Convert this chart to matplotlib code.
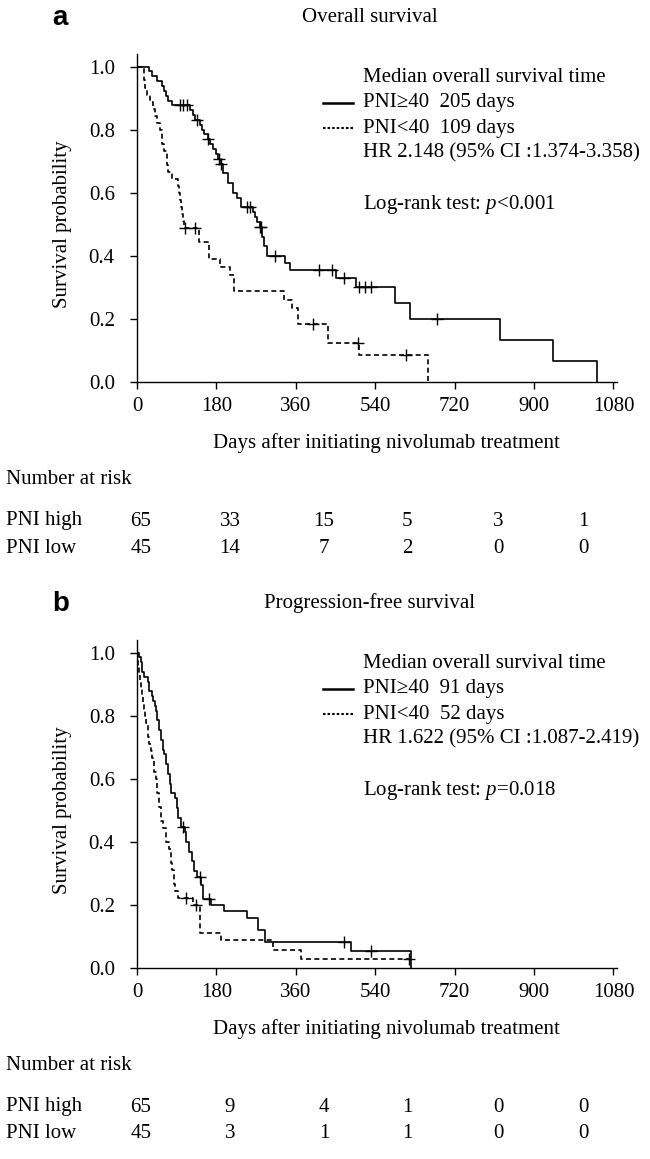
import numpy as np
import matplotlib.pyplot as plt
from matplotlib.lines import Line2D

plt.rcParams['font.family'] = ['Liberation Serif', 'DejaVu Serif']
plt.rcParams['mathtext.fontset'] = 'custom'
plt.rcParams['mathtext.rm'] = 'Liberation Serif'
plt.rcParams['mathtext.it'] = 'Liberation Serif:italic'

# ---- panel a: overall survival ----
os_high_t = [0, 27, 33, 45, 56, 62, 66, 71, 79, 120, 128, 132, 143, 148, 152, 160, 165, 173,
             178, 184, 188, 196, 206, 218, 226, 236, 262, 268, 272, 278, 283, 287, 294, 336,
             346, 452, 497, 584, 619, 823, 944, 1043]
os_high_s = [1.0, 0.985, 0.969, 0.954, 0.938, 0.923, 0.908, 0.892, 0.877, 0.862, 0.846, 0.831,
             0.815, 0.800, 0.785, 0.769, 0.754, 0.738, 0.723, 0.708, 0.692, 0.662, 0.631, 0.600,
             0.585, 0.554, 0.538, 0.523, 0.507, 0.492, 0.460, 0.430, 0.400, 0.378, 0.354, 0.330,
             0.300, 0.250, 0.200, 0.133, 0.067, 0.0]
os_high_cens = [97, 105, 114, 137, 162, 186, 190, 250, 257, 279, 282, 313, 412, 443, 470,
                504, 517, 531, 680]

os_low_t = [0, 16, 19, 22, 30, 37, 41, 45, 52, 57, 61, 67, 71, 80, 93, 96, 98, 100, 102, 104,
            106, 141, 164, 187, 210, 220, 334, 351, 366, 434, 503, 659]
os_low_s = [1.0, 0.956, 0.933, 0.911, 0.889, 0.867, 0.844, 0.822, 0.800, 0.756, 0.733, 0.689,
            0.667, 0.644, 0.622, 0.600, 0.578, 0.556, 0.533, 0.511, 0.489, 0.443, 0.391, 0.366,
            0.340, 0.290, 0.260, 0.235, 0.183, 0.123, 0.085, 0.0]
os_low_cens = [108, 132, 400, 500, 610]

os_risk_high = [65, 33, 15, 5, 3, 1]
os_risk_low = [45, 14, 7, 2, 0, 0]

# ---- panel b: progression-free survival ----
pfs_high_t = [0, 5, 8, 12, 15, 24, 28, 33, 37, 40, 43, 46, 50, 54, 58, 62, 66, 70, 75, 78, 86,
              90, 94, 100, 108, 112, 118, 124, 130, 137, 145, 149, 168, 197, 249, 275, 289, 486,
              621]
pfs_high_s = [1.0, 0.985, 0.969, 0.938, 0.923, 0.908, 0.877, 0.862, 0.846, 0.831, 0.815, 0.785,
              0.754, 0.723, 0.692, 0.677, 0.646, 0.615, 0.585, 0.554, 0.538, 0.508, 0.477, 0.446,
              0.431, 0.400, 0.369, 0.338, 0.308, 0.290, 0.262, 0.220, 0.200, 0.181, 0.160, 0.120,
              0.084, 0.055, 0.0]
pfs_high_cens = [104, 142, 164, 470, 531]

pfs_low_t = [0, 3, 5, 7, 9, 11, 13, 15, 17, 20, 24, 28, 32, 35, 39, 43, 46, 50, 55, 60, 66, 72,
             76, 80, 83, 86, 92, 128, 143, 190, 309, 372, 617]
pfs_low_s = [1.0, 0.956, 0.933, 0.911, 0.889, 0.867, 0.844, 0.822, 0.800, 0.778, 0.733, 0.711,
             0.689, 0.667, 0.622, 0.600, 0.556, 0.511, 0.467, 0.444, 0.400, 0.378, 0.333, 0.311,
             0.267, 0.244, 0.222, 0.200, 0.111, 0.089, 0.056, 0.028, 0.028]
pfs_low_cens = [112, 134, 617]

pfs_risk_high = [65, 9, 4, 1, 0, 0]
pfs_risk_low = [45, 3, 1, 1, 0, 0]

W, H = 650, 1159
fig = plt.figure(figsize=(W / 100, H / 100), dpi=100)


def fx(px):
    return px / W


def fy(py):
    return 1 - py / H


def surv_at(t, s, c):
    idx = np.searchsorted(t, c, side='right') - 1
    return np.array(s)[idx]


def panel(off, letter, title, curves, texts, risk_high, risk_low):
    ax = fig.add_axes([fx(137), fy(off + 382), (617 - 137) / W, (382 - 54) / H])
    for t, s, cens, ls in curves:
        ax.step(t, s, where='post', color='black', lw=1.2, linestyle=ls)
        ax.plot(cens, surv_at(t, s, cens), '+', color='black', ms=9, mew=1.0)
    ax.set_xlim(0, 1088)
    ax.set_ylim(0, 1.04)
    ax.set_xticks(range(0, 1081, 180))
    ax.set_yticks([0, 0.2, 0.4, 0.6, 0.8, 1.0])
    ax.set_yticklabels(['0.0', '0.2', '0.4', '0.6', '0.8', '1.0'])
    for side in ['top', 'right']:
        ax.spines[side].set_visible(False)
    for side in ['left', 'bottom']:
        ax.spines[side].set_linewidth(1.0)
    ax.tick_params(axis='both', direction='out', length=5, width=1.0, labelsize=15)
    ax.tick_params(axis='y', pad=11)
    ax.tick_params(axis='x', pad=6)

    fig.text(fx(52), fy(off + 18), letter, fontsize=20, fontweight='bold',
             family='Liberation Sans', ha='left', va='center')
    fig.text(fx(370), fy(off + 17), title, fontsize=15, ha='center', va='center')
    fig.text(fx(62), fy(off + 224), 'Survival probability', fontsize=15, rotation=90,
             ha='center', va='center')
    fig.text(fx(386), fy(off + 443), 'Days after initiating nivolumab treatment',
             fontsize=15, ha='center', va='center')

    # legend block
    ys = [78, 103, 128, 153, 204]
    for y, s in zip(ys, texts):
        fig.text(fx(363), fy(off + y), s, fontsize=15, ha='left', va='center')
    fig.add_artist(Line2D([fx(323), fx(353)], [fy(off + 103)] * 2, color='black', lw=1.8))
    fig.add_artist(Line2D([fx(323), fx(353)], [fy(off + 128)] * 2, color='black', lw=1.5,
                          linestyle=(0, (1.2, 1.0))))

    # number at risk
    fig.text(fx(6), fy(off + 479), 'Number at risk', fontsize=15, ha='left', va='center')
    fig.text(fx(6), fy(off + 521), 'PNI high', fontsize=15, ha='left', va='center')
    fig.text(fx(6), fy(off + 548), 'PNI low', fontsize=15, ha='left', va='center')
    cols = [141, 230, 324, 407, 498, 583]
    for cx, h, l in zip(cols, risk_high, risk_low):
        fig.text(fx(cx), fy(off + 521), str(h), fontsize=15, ha='center', va='center')
        fig.text(fx(cx), fy(off + 548), str(l), fontsize=15, ha='center', va='center')
    return ax


dash = (0, (3, 2))
panel(0, 'a', 'Overall survival',
      [(os_high_t, os_high_s, os_high_cens, '-'), (os_low_t, os_low_s, os_low_cens, dash)],
      ['Median overall survival time', 'PNI\u226540  205 days', 'PNI<40  109 days',
       'HR 2.148 (95% CI :1.374-3.358)', 'Log-rank test: $p$<0.001'],
      os_risk_high, os_risk_low)

panel(586, 'b', 'Progression-free survival',
      [(pfs_high_t, pfs_high_s, pfs_high_cens, '-'), (pfs_low_t, pfs_low_s, pfs_low_cens, dash)],
      ['Median overall survival time', 'PNI\u226540  91 days', 'PNI<40  52 days',
       'HR 1.622 (95% CI :1.087-2.419)', 'Log-rank test: $p$=0.018'],
      pfs_risk_high, pfs_risk_low)

fig.savefig('out.png', dpi=100)
